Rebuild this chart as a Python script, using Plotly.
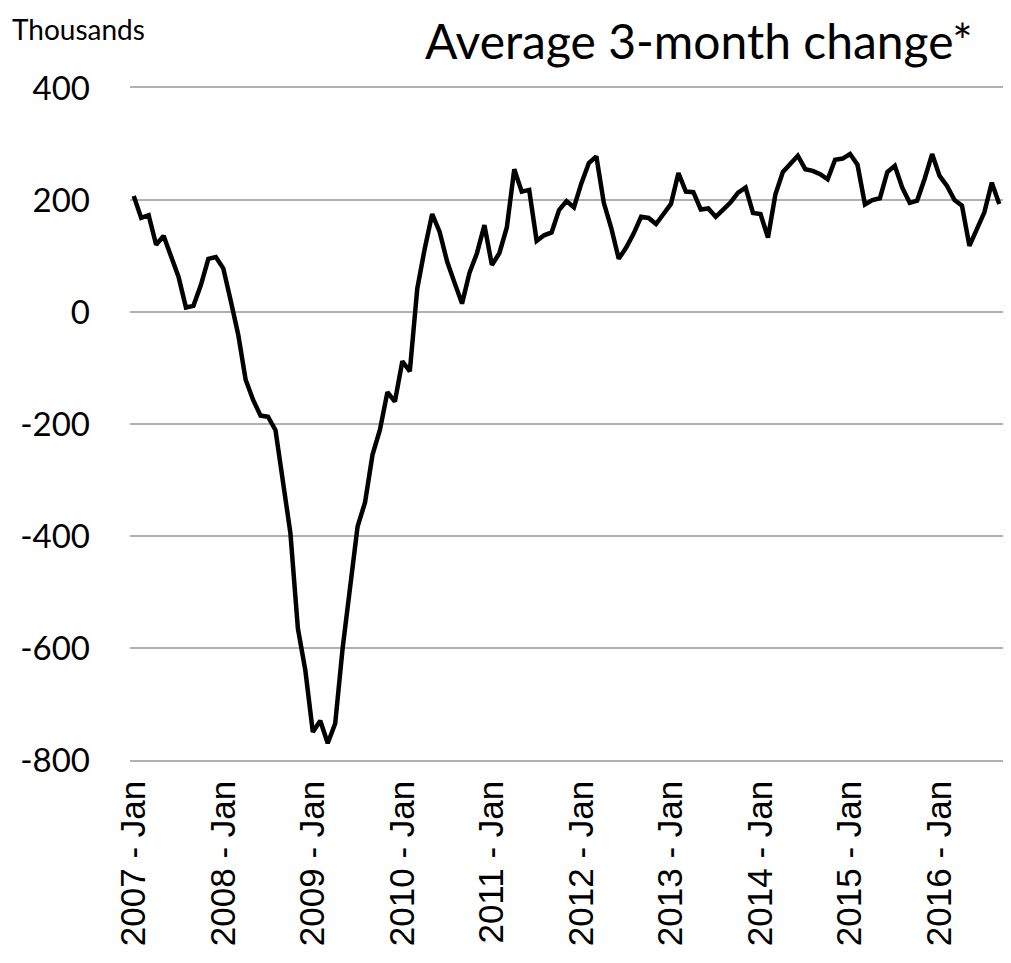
import plotly.graph_objects as go

years = list(range(2007, 2017))
months = ["Jan", "Feb", "Mar", "Apr", "May", "Jun", "Jul", "Aug", "Sep", "Oct", "Nov", "Dec"]

# average 3-month change in payrolls, thousands, Jan 2007 - Sep 2016
values = [
    207, 168, 173, 120, 136, 100, 63, 8, 11, 48, 95, 98,
    78, 20, -40, -121, -157, -185, -187, -211, -305, -395, -565, -640,
    -750, -730, -770, -735, -600, -490, -383, -340, -255, -210, -143, -160,
    -88, -106, 42, 113, 175, 143, 90, 52, 15, 70, 105, 155,
    84, 105, 151, 255, 215, 218, 127, 137, 142, 182, 198, 187,
    230, 266, 278, 195, 150, 95, 115, 140, 170, 168, 157, 175,
    193, 248, 215, 214, 183, 185, 170, 183, 196, 213, 222, 177,
    175, 133, 210, 250, 265, 279, 255, 252, 246, 237, 272, 274,
    282, 263, 192, 200, 203, 250, 261, 222, 195, 199, 238, 282,
    243, 225, 200, 190, 118, 146, 178, 231, 193,
]

y_ticks = [-800, -600, -400, -200, 0, 200, 400]

labels = [f"{y} - {m}" for y in years for m in months][:len(values)]
tick_labels = [f"{y} - Jan" for y in years]

fig = go.Figure()
fig.add_trace(go.Scatter(
    x=labels, y=values, mode="lines",
    line=dict(color="black", width=4.5),
    showlegend=False,
))

# the page body keeps an 8px margin, so size the figure to fit inside the window
fig.update_layout(
    width=995, height=947,
    margin=dict(l=122, r=0, t=80, b=195),
    paper_bgcolor="white", plot_bgcolor="white",
    font=dict(family="Lato, Liberation Sans, sans-serif", color="black"),
    xaxis=dict(
        type="category", range=[-0.5, 116.5],
        tickvals=tick_labels, ticktext=tick_labels,
        tickangle=-90,
        tickfont=dict(size=35, family="Liberation Sans"),
        showgrid=False, zeroline=False,
        # top and bottom frame lines stand in for the 400 / -800 gridlines
        showline=True, mirror=True, linecolor="#b0b0b0", linewidth=1.5,
        ticklabelstandoff=5, automargin=False,
    ),
    yaxis=dict(
        range=[-800, 400], tickvals=y_ticks,
        ticktext=[str(v) for v in y_ticks],
        tickfont=dict(size=33),
        showgrid=True, gridcolor="#b0b0b0", gridwidth=1.5,
        zeroline=False, showline=False,
        ticklabelstandoff=39, automargin=False,
    ),
    annotations=[
        dict(text="Average 3-month change*", xref="paper", yref="paper",
             x=0.968, y=1.071, xanchor="right", yanchor="middle",
             showarrow=False, font=dict(size=48)),
        dict(text="Thousands", xref="paper", yref="paper",
             x=-0.137, y=1.088, xanchor="left", yanchor="middle",
             showarrow=False, font=dict(size=28)),
    ],
)

fig.write_html("out.html")
